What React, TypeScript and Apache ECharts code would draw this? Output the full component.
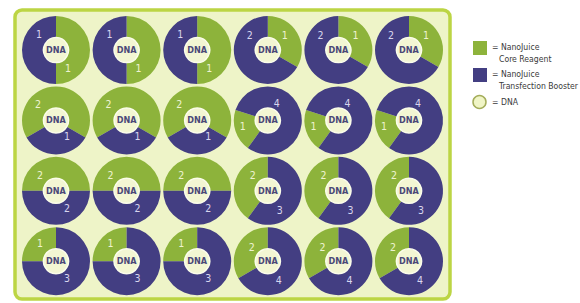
import React, { useEffect, useRef } from "react";
import * as echarts from "echarts";

// ---- data ----
const componentNames = ["NanoJuice Core Reagent", "NanoJuice Transfection Booster"];
const centerLabel = "DNA";
// parts of each reagent, rows top to bottom, columns left to right
const coreReagent = [
  [1, 1, 1, 1, 1, 1],
  [2, 2, 2, 1, 1, 1],
  [2, 2, 2, 2, 2, 2],
  [1, 1, 1, 2, 2, 2],
];
const transfectionBooster = [
  [1, 1, 1, 2, 2, 2],
  [1, 1, 1, 4, 4, 4],
  [2, 2, 2, 3, 3, 3],
  [3, 3, 3, 4, 4, 4],
];
const legendCore = ["= NanoJuice", "Core Reagent"];
const legendBooster = ["= NanoJuice", "Transfection Booster"];
const legendDna = "= DNA";

// ---- layout / style ----
const GREEN = "#8db33b";
const PURPLE = "#433e82";
const GREEN_TEXT = "#eef3d2";
const PURPLE_TEXT = "#d9d6ee";
const PANEL_FILL = "#eef4c8";
const PANEL_STROKE = "#bcd544";
const HOLE_FILL = "#f3f6d3";
const HOLE_RING = "#fbfdeb";
const DNA_TEXT = "#4a4877";
const FONT = "'Liberation Sans Narrow', 'DejaVu Sans Condensed', 'Roboto Condensed', 'Liberation Sans', sans-serif";
const X0 = 56, DX = 70.6, Y0 = 50, DY = 70.4, R_OUT = 34, R_IN = 12;
// clockwise angle from 12 o'clock where the green part begins; [cols 1-3, cols 4-6]
const greenStart = [
  [0, 0],
  [240, 216],
  [270, 216],
  [270, 240],
];
// label offsets from the ring centre
const greenLabelOff = [
  [[12, 18], [17, -15]],
  [[-18, -16], [-25, 6]],
  [[-16, -16], [-15, -16]],
  [[-16, -18], [-16, -14]],
];
const purpleLabelOff = [
  [[-17, -16], [-18, -15]],
  [[11, 16], [9, -17]],
  [[11, 17], [12, 19]],
  [[11, 17], [11, 19]],
];

function buildOption() {
  const series: any[] = [];
  coreReagent.forEach((row, r) => {
    row.forEach((g, c) => {
      const p = transfectionBooster[r][c];
      const half = c < 3 ? 0 : 1;
      const cx = X0 + c * DX;
      const cy = Y0 + r * DY;
      const offs = [greenLabelOff[r][half], purpleLabelOff[r][half]];
      series.push({
        type: "pie",
        center: [cx, cy],
        radius: [R_IN, R_OUT],
        startAngle: 90 - greenStart[r][half],
        clockwise: true,
        silent: true,
        avoidLabelOverlap: false,
        z: 2,
        label: {
          show: true,
          position: "inside",
          formatter: "{c}",
          fontSize: 10.5,
          fontFamily: FONT,
        },
        labelLine: { show: false },
        labelLayout: (params: any) => {
          const o = offs[params.dataIndex];
          return { x: cx + o[0], y: cy + o[1], align: "center", verticalAlign: "middle" };
        },
        data: [
          { value: g, name: componentNames[0], itemStyle: { color: GREEN }, label: { color: GREEN_TEXT } },
          { value: p, name: componentNames[1], itemStyle: { color: PURPLE }, label: { color: PURPLE_TEXT } },
        ],
      });
      series.push({
        type: "pie",
        center: [cx, cy],
        radius: [0, R_IN + 0.5],
        silent: true,
        z: 3,
        itemStyle: { color: HOLE_FILL, borderColor: HOLE_RING, borderWidth: 1.5 },
        label: {
          show: true,
          position: "center",
          formatter: centerLabel,
          fontSize: 9,
          fontWeight: "bold",
          color: DNA_TEXT,
          fontFamily: FONT,
        },
        labelLine: { show: false },
        data: [{ value: 1, name: centerLabel }],
      });
    });
  });

  const legendText = (x: number, y: number, text: string) => ({
    type: "text",
    x,
    y,
    z: 10,
    style: { text, fill: "#3a3a3a", fontSize: 8.6, fontFamily: FONT, textVerticalAlign: "middle" },
  });

  const graphic: any[] = [
    {
      type: "rect",
      z: 0,
      shape: { x: 15, y: 10, width: 435, height: 289, r: 7 },
      style: { fill: PANEL_FILL, stroke: PANEL_STROKE, lineWidth: 3.5 },
    },
    { type: "rect", z: 10, shape: { x: 473, y: 41, width: 14, height: 14 }, style: { fill: GREEN } },
    legendText(492, 47, legendCore[0]),
    legendText(499, 59, legendCore[1]),
    { type: "rect", z: 10, shape: { x: 473, y: 68, width: 14, height: 14 }, style: { fill: PURPLE } },
    legendText(492, 74, legendBooster[0]),
    legendText(499, 86, legendBooster[1]),
    {
      type: "circle",
      z: 10,
      shape: { cx: 479.5, cy: 102, r: 6.5 },
      style: { fill: "#f0f5c6", stroke: "#a4ad5a", lineWidth: 1.5 },
    },
    legendText(492, 102, legendDna),
  ];

  return {
    animation: false,
    backgroundColor: "#ffffff",
    series,
    graphic,
  };
}

export default function App() {
  const ref = useRef<HTMLDivElement>(null);
  useEffect(() => {
    if (!ref.current) return;
    const chart = echarts.init(ref.current, null, { renderer: "svg" });
    chart.setOption(buildOption());
    return () => chart.dispose();
  }, []);
  return (
    <div
      ref={ref}
      style={{ position: "absolute", left: 0, top: 0, width: 580, height: 303, overflow: "hidden" }}
    />
  );
}
